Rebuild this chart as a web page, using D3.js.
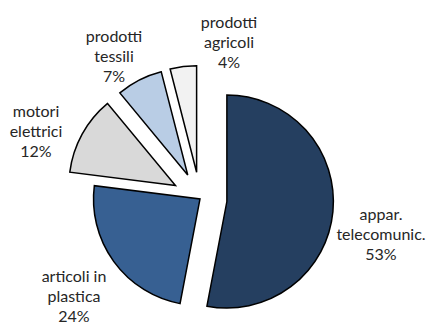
<!DOCTYPE html>
<html>
<head>
<meta charset="utf-8">
<script src="https://cdn.jsdelivr.net/npm/d3@7/dist/d3.min.js"></script>
<style>
  html, body { margin: 0; padding: 0; background: #fff; }
  svg { display: block; }
  text { font-family: Lato, "Open Sans", sans-serif; fill: #262626; }
</style>
</head>
<body>
<svg id="chart" width="429" height="324"></svg>
<script>
// Data
const categories = ["appar. telecomunic.", "articoli in plastica", "motori elettrici", "prodotti tessili", "prodotti agricoli"];
const labelLines = [["appar.", "telecomunic."], ["articoli in", "plastica"], ["motori", "elettrici"], ["prodotti", "tessili"], ["prodotti", "agricoli"]];
const values = [53, 24, 12, 7, 4];
const percentLabels = ["53%", "24%", "12%", "7%", "4%"];

// Styling
const colors = ["#253F60", "#376092", "#D9D9D9", "#B9CDE5", "#F2F2F2"];
const explode = [27, 0, 28, 27, 27];
const labelPos = [[381, 220], [74, 282], [36, 117], [114, 42], [229, 28]];

const svg = d3.select("#chart");
const cx = 200, cy = 199, r = 106.5;

const pie = d3.pie().sort(null).value(d => d)(values);
const arc = d3.arc().innerRadius(0).outerRadius(r);

const g = svg.append("g").attr("transform", `translate(${cx},${cy})`);

g.selectAll("path").data(pie).join("path")
  .attr("d", arc)
  .attr("fill", (d, i) => colors[i])
  .attr("stroke", "#000")
  .attr("stroke-width", 1.5)
  .attr("stroke-linejoin", "miter")
  .attr("transform", (d, i) => {
    const m = (d.startAngle + d.endAngle) / 2;
    return `translate(${explode[i] * Math.sin(m)},${-explode[i] * Math.cos(m)})`;
  });

const lg = svg.append("g");
pie.forEach((d, i) => {
  const t = lg.append("text")
    .attr("x", labelPos[i][0])
    .attr("y", labelPos[i][1])
    .attr("text-anchor", "middle")
    .style("font-size", "16px");
  const lines = labelLines[i].concat([percentLabels[i]]);
  lines.forEach((ln, k) => {
    t.append("tspan").attr("x", labelPos[i][0]).attr("dy", k === 0 ? 0 : 20).text(ln);
  });
});
</script>
</body>
</html>
